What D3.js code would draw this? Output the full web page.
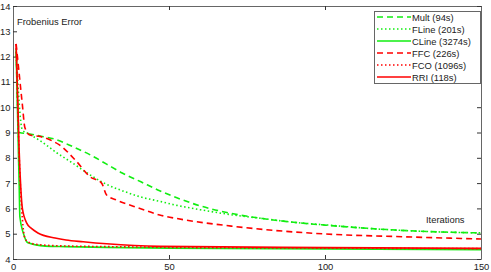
<!DOCTYPE html>
<html>
<head>
<meta charset="utf-8">
<script src="https://cdn.jsdelivr.net/npm/d3@7"></script>
<style>
  body { margin: 0; background: #fff; }
  svg { display: block; font-family: "Liberation Sans", Arial, sans-serif; }
</style>
</head>
<body>
<svg id="chart" width="491" height="272"></svg>
<script>
// DATA (iteration, frobenius error)
var multIter  = [1, 2, 5, 9, 13, 19, 25, 30, 35, 41, 47, 52.5, 60, 70, 80, 90, 100, 115, 130, 150];
var multErr   = [12.2, 9.0, 8.95, 8.85, 8.75, 8.45, 8.1, 7.75, 7.4, 7.05, 6.7, 6.42, 6.1, 5.8, 5.6, 5.45, 5.34, 5.2, 5.1, 5.03];
var flineIter = [1, 3, 5, 9, 14, 19, 25, 30, 35, 41, 47, 52.5, 60, 70, 80, 90, 100, 115, 130, 150];
var flineErr  = [12.2, 9.1, 8.95, 8.65, 8.2, 7.8, 7.3, 6.95, 6.7, 6.45, 6.28, 6.12, 5.95, 5.75, 5.6, 5.45, 5.35, 5.2, 5.1, 5.03];
var clineIter = [1, 2, 2.2, 3.3, 4.8, 10.3, 16.7, 30, 50, 100, 150];
var clineErr  = [12.3, 6.8, 5.67, 5.03, 4.64, 4.51, 4.49, 4.46, 4.43, 4.4, 4.37];
var ffcIter   = [1, 2, 3, 3.8, 5.4, 8.7, 12, 15, 20.4, 24.7, 28.4, 30, 33.2, 40.7, 47, 52.5, 70, 100, 125, 150];
var ffcErr    = [12.5, 11.3, 10.1, 9.2, 8.9, 8.84, 8.7, 8.5, 7.85, 7.25, 7.0, 6.53, 6.33, 6.0, 5.74, 5.6, 5.3, 4.99, 4.88, 4.79];
var fcoIter   = [1, 2, 3, 3.8, 5, 8, 15, 30, 50, 100, 150];
var fcoErr    = [12.5, 8.0, 5.6, 4.83, 4.66, 4.57, 4.52, 4.49, 4.46, 4.43, 4.41];
var rriIter   = [1, 1.6, 2, 2.5, 3, 4.4, 6, 8, 13.5, 17, 22.5, 30, 47, 100, 150];
var rriErr    = [12.5, 10, 8.2, 6.8, 6.0, 5.42, 5.2, 5.03, 4.83, 4.75, 4.68, 4.6, 4.5, 4.45, 4.42];

var xTicks = [0, 50, 100, 150];
var yTicks = [4, 5, 6, 7, 8, 9, 10, 11, 12, 13, 14];
var legendLabels = ["Mult (94s)", "FLine (201s)", "CLine (3274s)", "FFC (226s)", "FCO (1096s)", "RRI (118s)"];

var green = "#11ee11", red = "#ff0000";
var series = [
  { x: multIter,  y: multErr,  color: green, dash: "6,4" },
  { x: flineIter, y: flineErr, color: green, dash: "1.5,2.5" },
  { x: clineIter, y: clineErr, color: green, dash: null },
  { x: ffcIter,   y: ffcErr,   color: red,   dash: "6,4" },
  { x: fcoIter,   y: fcoErr,   color: red,   dash: "1.5,2.5" },
  { x: rriIter,   y: rriErr,   color: red,   dash: null }
];

var svg = d3.select("#chart");
var plotL = 13, plotR = 481, plotT = 6, plotB = 259;
var x = d3.scaleLinear().domain([0, 150]).range([plotL, plotR]);
var y = d3.scaleLinear().domain([4, 14]).range([plotB, plotT]);

var axisColor = "#666";
var fs = 9.4;

// axes (MATLAB box style, ticks inside)
svg.append("g").attr("transform", "translate(0," + plotB + ")")
  .call(d3.axisBottom(x).tickValues(xTicks).tickSizeInner(-4).tickSizeOuter(0).tickPadding(4));
svg.append("g").attr("transform", "translate(0," + plotT + ")")
  .call(d3.axisTop(x).tickValues(xTicks).tickSizeInner(-4).tickSizeOuter(0).tickFormat(""));
svg.append("g").attr("transform", "translate(" + plotL + ",0)")
  .call(d3.axisLeft(y).tickValues(yTicks).tickSizeInner(-4).tickSizeOuter(0).tickPadding(2.5));
svg.append("g").attr("transform", "translate(" + plotR + ",0)")
  .call(d3.axisRight(y).tickValues(yTicks).tickSizeInner(-4).tickSizeOuter(0).tickFormat(""));

svg.selectAll(".domain").attr("stroke", axisColor);
svg.selectAll(".tick line").attr("stroke", "#333");
svg.selectAll(".tick text").attr("font-size", fs).attr("fill", "#222")
  .attr("font-family", "Liberation Sans, Arial, sans-serif");

// lines
var plot = svg.append("g");
series.forEach(function (s) {
  var pts = s.x.map(function (d, i) { return [d, s.y[i]]; });
  var line = d3.line()
    .x(function (d) { return x(d[0]); })
    .y(function (d) { return y(d[1]); })
    .curve(d3.curveMonotoneX);
  plot.append("path")
    .datum(pts)
    .attr("d", line)
    .attr("fill", "none")
    .attr("stroke", s.color)
    .attr("stroke-width", 1.6)
    .attr("stroke-dasharray", s.dash);
});

// annotations
svg.append("text").attr("x", 17).attr("y", 25).attr("font-size", fs).attr("fill", "#222").text("Frobenius Error");
svg.append("text").attr("x", 426).attr("y", 223).attr("font-size", fs).attr("fill", "#222").text("Iterations");

// legend
var lg = svg.append("g");
lg.append("rect").attr("x", 374.5).attr("y", 11.5).attr("width", 106).attr("height", 72)
  .attr("fill", "#fff").attr("stroke", axisColor);
series.forEach(function (s, i) {
  var ly = 17 + i * 12;
  lg.append("line").attr("x1", 377).attr("x2", 411).attr("y1", ly).attr("y2", ly)
    .attr("stroke", s.color).attr("stroke-width", 1.6).attr("stroke-dasharray", s.dash);
  lg.append("text").attr("x", 412).attr("y", ly + 3.5).attr("font-size", fs).attr("fill", "#222")
    .text(legendLabels[i]);
});
</script>
</body>
</html>
